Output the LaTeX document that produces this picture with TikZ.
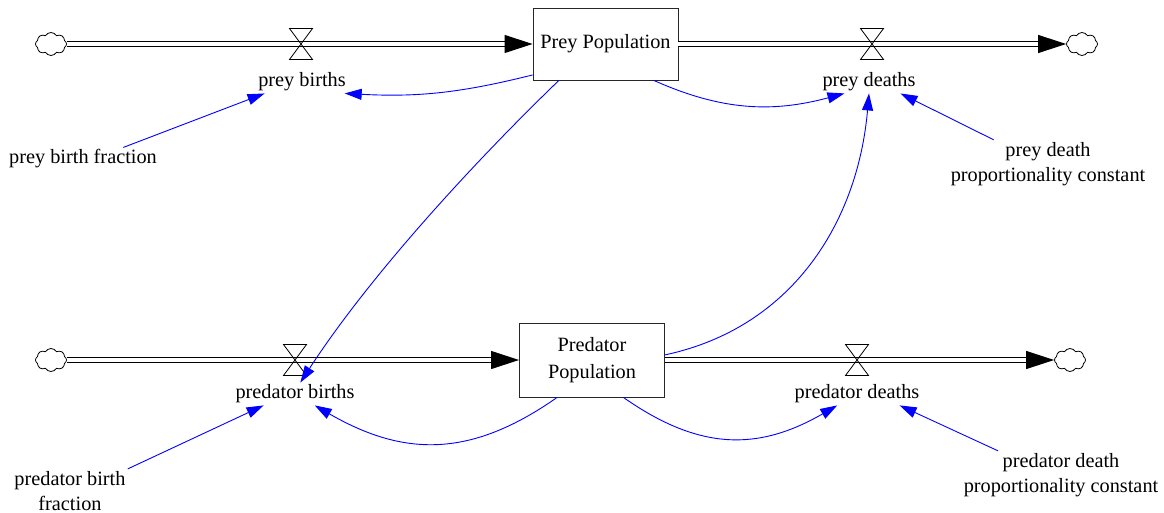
\documentclass[tikz,border=0pt]{standalone}
\usepackage{fontspec}
\setmainfont{Liberation Serif}
\usetikzlibrary{arrows.meta,shapes.symbols}

\begin{document}
\begin{tikzpicture}[x=1pt, y=1pt,
  stock/.style={rectangle, draw=black!85, line width=0.9pt, minimum width=145pt,
                minimum height=72pt, align=center, font=\fontsize{20.3}{26.5}\selectfont},
  lbl/.style={inner sep=2pt, align=center, font=\fontsize{20.3}{25.5}\selectfont},
  source/.style={cloud, draw, cloud puffs=8, cloud puff arc=120, aspect=1.3,
                 inner sep=0pt, minimum width=31pt, minimum height=23pt, line width=0.8pt},
  pipe/.style={double, double distance=3.8pt, line width=1pt,
               -{Triangle[length=28pt,width=18pt]}},
  link/.style={blue, line width=0.9pt, -{Triangle[length=17pt,width=11pt]}},
  valve/.pic={\draw[line width=0.8pt] (-11.5,15.5) -- (11.5,15.5) -- (-11.5,-15.5)
              -- (11.5,-15.5) -- cycle;}
]
\useasboundingbox (0,0) rectangle (1164,-513);

\node[stock] (prey) at (605.5,-44) {Prey Population};
\node[stock, minimum height=74pt] (pred) at (592,-360) {Predator\\Population};

\node[source] (c1) at (51,-44) {};
\node[source] (c2) at (1082,-44) {};
\node[source] (c3) at (51,-360) {};
\node[source] (c4) at (1070,-360) {};

\draw[pipe] (c1) -- (prey);
\draw[pipe] (prey) -- (c2);
\draw[pipe] (c3) -- (pred);
\draw[pipe] (pred) -- (c4);

\pic at (301,-44) {valve};
\pic at (872,-44) {valve};
\pic at (295,-360) {valve};
\pic at (857,-360) {valve};

\node[lbl] (pb) at (302,-82) {prey births};
\node[lbl] (pd) at (869,-82) {prey deaths};
\node[lbl] (db) at (295,-394) {predator births};
\node[lbl] (dd) at (857,-394) {predator deaths};

\node[lbl] (pbf) at (83,-159) {prey birth fraction};
\node[lbl] (pdc) at (1048,-164) {prey death\\proportionality constant};
\node[lbl] (dbf) at (70,-491) {predator birth\\fraction};
\node[lbl] (ddc) at (1061,-475) {predator death\\proportionality constant};

\draw[link] (prey.203) to[out=194, in=-3] (pb.-15);
\draw[link] (prey.-37) to[out=-24, in=195] (pd.-155);
\draw[link] (prey.218) to[out=224, in=57, looseness=0.8] (db.65);
\draw[link] (pred.4) to[out=12, in=-95] (pd.south);
\draw[link] (pred.227) to[out=215, in=-30, looseness=1.1] (db.-30);
\draw[link] (pred.-50) to[out=-35, in=210, looseness=1.1] (dd.-150);

\draw[link] (pbf.16) -- (pb.-163);
\draw[link] (pdc.156) -- (pd.-20);
\draw[link] (dbf.north east) -- (db.-160);
\draw[link] (ddc.159) -- (dd.-15);
\end{tikzpicture}
\end{document}
